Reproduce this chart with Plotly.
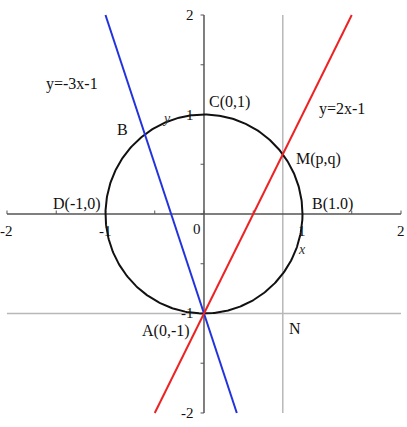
import numpy as np
import plotly.graph_objects as go

# ---- data ----
x_ticks = [-2, -1.5, -1, -0.5, 0, 0.5, 1, 1.5, 2]
y_ticks = [-2, -1.5, -1, -0.5, 0, 0.5, 1, 1.5, 2]
x_tick_labels = {-2: "-2", -1: "-1", 1: "1", 2: "2"}
y_tick_labels = {2: "2", 1: "1", -1: "-1", -2: "-2"}
blue_x = [-1, 1/3]          # y = -3x - 1
blue_slope, blue_icpt = -3, -1
red_x = [-0.5, 1.5]         # y = 2x - 1
red_slope, red_icpt = 2, -1
m_x = 0.8                   # vertical line x = p
n_y = -1                    # horizontal line y = -1
labels = [
    ("y=-3x-1", -1.34, 1.31),
    ("B", -0.83, 0.85),
    ("C(0,1)", 0.26, 1.13),
    ("y=2x-1", 1.40, 1.06),
    ("M(p,q)", 1.16, 0.55),
    ("D(-1,0)", -1.29, 0.10),
    ("B(1.0)", 1.30, 0.10),
    ("A(0,-1)", -0.39, -1.18),
    ("N", 0.92, -1.15),
]
italic_labels = [("y", -0.38, 0.96), ("x", 1.0, -0.36)]

fig = go.Figure()
grey = "#b8b8b8"
axc = "#555555"

# gray helper lines
fig.add_trace(go.Scatter(x=[m_x, m_x], y=[-2, 2], mode="lines", line=dict(color=grey, width=1.5)))
fig.add_trace(go.Scatter(x=[-2, 2], y=[n_y, n_y], mode="lines", line=dict(color=grey, width=1.5)))

# axes
fig.add_trace(go.Scatter(x=[-2, 2], y=[0, 0], mode="lines", line=dict(color=axc, width=1.5)))
fig.add_trace(go.Scatter(x=[0, 0], y=[-2, 2], mode="lines", line=dict(color=axc, width=1.5)))
tx, ty = [], []
for t in x_ticks:
    tx += [t, t, None]; ty += [0, 0.035, None]
fig.add_trace(go.Scatter(x=tx, y=ty, mode="lines", line=dict(color=axc, width=1)))
tx, ty = [], []
for t in y_ticks:
    tx += [0, -0.035, None]; ty += [t, t, None]
fig.add_trace(go.Scatter(x=tx, y=ty, mode="lines", line=dict(color=axc, width=1)))

# circle
th = np.linspace(0, 2 * np.pi, 400)
fig.add_trace(go.Scatter(x=np.cos(th), y=np.sin(th), mode="lines", line=dict(color="#111111", width=2)))

# lines
bx = np.array(blue_x)
fig.add_trace(go.Scatter(x=bx, y=blue_slope * bx + blue_icpt, mode="lines", line=dict(color="#2233dd", width=2)))
rx = np.array(red_x)
fig.add_trace(go.Scatter(x=rx, y=red_slope * rx + red_icpt, mode="lines", line=dict(color="#ee2222", width=2)))

font = dict(family="Liberation Serif", size=16, color="#111111")
tfont = dict(family="Liberation Serif", size=15, color="#111111")
ann = []
for t, s in x_tick_labels.items():
    ann.append(dict(x=t, y=-0.17, text=s, showarrow=False, font=tfont))
ann.append(dict(x=-0.07, y=-0.15, text="0", showarrow=False, font=tfont))
for t, s in y_tick_labels.items():
    ann.append(dict(x=-0.08, y=t, text=s, showarrow=False, xanchor="right", font=tfont))
for s, x, y in labels:
    ann.append(dict(x=x, y=y, text=s, showarrow=False, font=font))
for s, x, y in italic_labels:
    ann.append(dict(x=x, y=y, text="<i>" + s + "</i>", showarrow=False,
                    font=dict(family="Liberation Serif", size=14, color="#333333")))

fig.update_layout(
    width=407, height=427,
    margin=dict(l=0, r=0, t=0, b=0),
    paper_bgcolor="white", plot_bgcolor="white",
    showlegend=False,
    annotations=ann,
    xaxis=dict(range=[-2.071, 2.061], visible=False, fixedrange=True),
    yaxis=dict(range=[-2.141, 2.151], visible=False, fixedrange=True),
)
fig.write_html("out.html", config={"displayModeBar": False},
               post_script="document.body.style.margin='0px';")
